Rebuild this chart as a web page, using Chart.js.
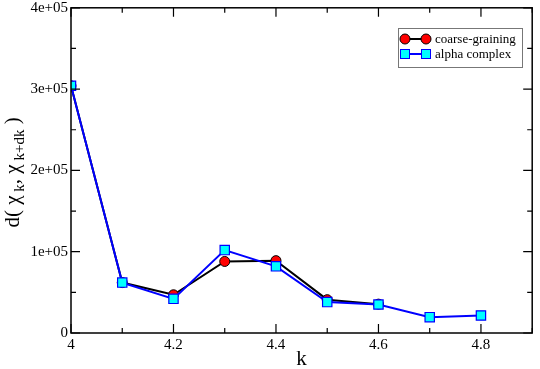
<!DOCTYPE html>
<html>
<head>
<meta charset="utf-8">
<script src="https://cdn.jsdelivr.net/npm/chart.js@4/dist/chart.umd.min.js"></script>
<style>
  html, body { margin: 0; padding: 0; background: #fff; }
  #wrap { width: 540px; height: 369px; position: relative; }
</style>
</head>
<body>
<div id="wrap"><canvas id="chart"></canvas></div>
<script>
const kValues = [4.0, 4.1, 4.2, 4.3, 4.4, 4.5, 4.6, 4.7, 4.8];
const coarseGraining = [304000, 62000, 47000, 88000, 89000, 41000, 35500];
const alphaComplex = [304000, 62000, 42000, 102000, 82000, 38000, 35000, 19500, 21500];
const seriesNames = ['coarse-graining', 'alpha complex'];

const SERIF = '"Liberation Serif", "Times New Roman", serif';

function toPoints(values) {
    return values.map((v, i) => ({ x: kValues[i], y: v }));
}

function formatSci(v) {
    if (v === 0) return '0';
    const exp = Math.floor(Math.log10(v) + 1e-9);
    const mant = Math.round(v / Math.pow(10, exp));
    return mant + 'e+' + String(exp).padStart(2, '0');
}

// frame, inward ticks, y title and legend box
const framePlugin = {
    id: 'frame',
    afterDraw(chart) {
        const ctx = chart.ctx;
        const area = chart.chartArea;
        const xs = chart.scales.x;
        const ys = chart.scales.y;
        ctx.save();
        ctx.strokeStyle = '#000';
        ctx.lineWidth = 1.5;
        ctx.strokeRect(area.left, area.top, area.right - area.left, area.bottom - area.top);

        ctx.lineWidth = 1.2;
        xs.ticks.forEach((t) => {
            const px = xs.getPixelForValue(t.value);
            const major = Math.round(t.value * 10) % 2 === 0;
            const len = major ? 9 : 5;
            ctx.beginPath();
            ctx.moveTo(px, area.bottom);
            ctx.lineTo(px, area.bottom - len);
            ctx.moveTo(px, area.top);
            ctx.lineTo(px, area.top + len);
            ctx.stroke();
        });
        ys.ticks.forEach((t) => {
            const py = ys.getPixelForValue(t.value);
            const major = Math.round(t.value / 50000) % 2 === 0;
            const len = major ? 9 : 5;
            ctx.beginPath();
            ctx.moveTo(area.left, py);
            ctx.lineTo(area.left + len, py);
            ctx.moveTo(area.right, py);
            ctx.lineTo(area.right - len, py);
            ctx.stroke();
        });

        // y axis title with subscripts
        ctx.translate(19, (area.top + area.bottom) / 2 + 2);
        ctx.rotate(-Math.PI / 2);
        const parts = [
            ['d( ', 21, 0], ['\u03C7', 21, 0], [' k', 15, 5], [', ', 21, 0],
            ['\u03C7', 21, 0], [' k+dk', 15, 5], [' )', 21, 0]
        ];
        let total = 0;
        parts.forEach((p) => {
            ctx.font = p[1] + 'px ' + SERIF;
            total += ctx.measureText(p[0]).width;
        });
        let x = -total / 2;
        ctx.fillStyle = '#000';
        ctx.textBaseline = 'alphabetic';
        parts.forEach((p) => {
            ctx.font = p[1] + 'px ' + SERIF;
            ctx.fillText(p[0], x, p[2]);
            x += ctx.measureText(p[0]).width;
        });
        ctx.restore();

        // legend
        ctx.save();
        const lx = 398, ly = 28, lw = 124, lh = 39;
        ctx.fillStyle = '#fff';
        ctx.fillRect(lx, ly, lw, lh);
        ctx.strokeStyle = '#777';
        ctx.lineWidth = 1;
        ctx.strokeRect(lx + 0.5, ly + 0.5, lw, lh);
        chart.data.datasets.forEach((ds, i) => {
            const cy = ly + 11 + i * 15;
            ctx.strokeStyle = ds.borderColor;
            ctx.lineWidth = 2;
            ctx.beginPath();
            ctx.moveTo(405, cy);
            ctx.lineTo(426, cy);
            ctx.stroke();
            [405, 426].forEach((mx) => {
                ctx.fillStyle = ds.pointBackgroundColor;
                ctx.strokeStyle = ds.pointBorderColor;
                ctx.lineWidth = 1;
                if (ds.pointStyle === 'circle') {
                    ctx.beginPath();
                    ctx.arc(mx, cy, 5, 0, Math.PI * 2);
                    ctx.fill();
                    ctx.stroke();
                } else {
                    ctx.fillRect(mx - 4.5, cy - 4.5, 9, 9);
                    ctx.strokeRect(mx - 4.5, cy - 4.5, 9, 9);
                }
            });
            ctx.fillStyle = '#000';
            ctx.font = '13px ' + SERIF;
            ctx.textBaseline = 'middle';
            ctx.fillText(seriesNames[i], 435, cy + 1);
        });
        ctx.restore();
    }
};

new Chart(document.getElementById('chart'), {
    type: 'line',
    data: {
        datasets: [
            {
                label: seriesNames[0],
                data: toPoints(coarseGraining),
                borderColor: '#000000',
                borderWidth: 2,
                pointStyle: 'circle',
                pointRadius: 5,
                pointBackgroundColor: '#ff0000',
                pointBorderColor: '#000000',
                pointBorderWidth: 1,
                tension: 0,
                order: 1
            },
            {
                label: seriesNames[1],
                data: toPoints(alphaComplex),
                borderColor: '#0000ff',
                borderWidth: 2,
                pointStyle: 'rect',
                pointRadius: 6.6,
                pointBackgroundColor: '#00ffff',
                pointBorderColor: '#0000ff',
                pointBorderWidth: 1.2,
                tension: 0,
                order: 0
            }
        ]
    },
    options: {
        responsive: true,
        maintainAspectRatio: false,
        animation: false,
        events: [],
        layout: { padding: { top: 4, right: 2, left: 0, bottom: 0 } },
        plugins: {
            legend: { display: false },
            tooltip: { enabled: false }
        },
        scales: {
            x: {
                type: 'linear',
                min: 4,
                max: 4.9,
                afterFit(scale) {
                    scale.height = 36;
                    scale.paddingLeft = 0;
                    scale.paddingRight = 0;
                },
                afterBuildTicks(scale) {
                    scale.ticks = [];
                    for (let i = 40; i <= 49; i++) scale.ticks.push({ value: i / 10 });
                },
                grid: { display: false, drawTicks: false },
                border: { display: false },
                title: {
                    display: true,
                    text: 'k',
                    color: '#000',
                    font: { family: SERIF, size: 21 },
                    padding: { top: 0, bottom: -3 }
                },
                ticks: {
                    color: '#000',
                    padding: 3,
                    maxRotation: 0,
                    autoSkip: false,
                    font: { family: SERIF, size: 15 },
                    callback(v) {
                        const n = Math.round(v * 10);
                        return (n % 2 === 0 && n < 49) ? String(n / 10) : '';
                    }
                }
            },
            y: {
                type: 'linear',
                min: 0,
                max: 400000,
                afterFit(scale) {
                    scale.width = 71;
                    scale.paddingTop = 0;
                    scale.paddingBottom = 0;
                },
                grid: { display: false, drawTicks: false },
                border: { display: false },
                ticks: {
                    stepSize: 50000,
                    color: '#000',
                    padding: 3,
                    autoSkip: false,
                    font: { family: SERIF, size: 15 },
                    callback(v) {
                        return Math.round(v / 50000) % 2 === 0 ? formatSci(v) : '';
                    }
                }
            }
        }
    },
    plugins: [framePlugin]
});
</script>
</body>
</html>
